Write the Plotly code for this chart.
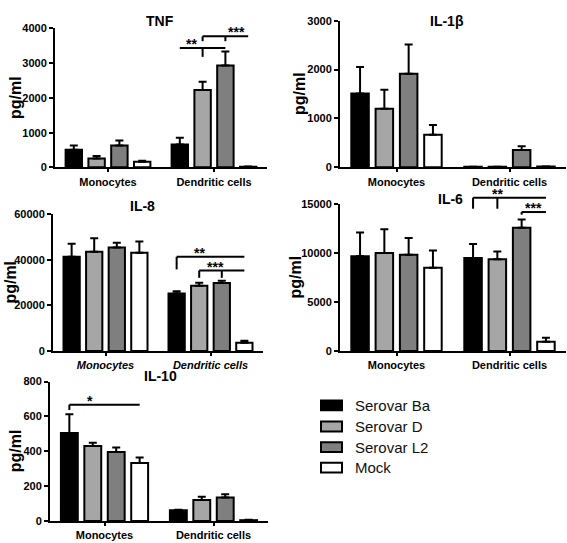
import plotly.graph_objects as go

W, H = 567, 543

categories = ["Monocytes", "Dendritic cells"]
series = ["Serovar Ba", "Serovar D", "Serovar L2", "Mock"]
colors = ["#000000", "#a6a6a6", "#7f7f7f", "#ffffff"]

# values [series][category], errors (upper SEM)
tnf = [[510, 660], [255, 2230], [630, 2935], [160, 20]]
tnf_err = [[120, 190], [75, 236], [140, 400], [28, 6]]

il1b = [[1513, 10], [1200, 10], [1913, 353], [667, 15]]
il1b_err = [[540, 3], [387, 3], [600, 80], [200, 4]]

il8 = [[41300, 25200], [43600, 28600], [45400, 29800], [43100, 3600]]
il8_err = [[5800, 1000], [5900, 1300], [2100, 1000], [5000, 900]]

il6 = [[9667, 9500], [10000, 9367], [9833, 12600], [8500, 933]]
il6_err = [[2433, 1433], [2433, 800], [1700, 833], [1767, 400]]

il10 = [[505, 62], [430, 121], [396, 135], [333, 5]]
il10_err = [[108, 3], [19, 19], [25, 18], [31, 2]]

panels = [
    dict(name="TNF", data=tnf, err=tnf_err, box=(55, 267, 23, 165), ymax=4000, dtick=1000, tx=160, ty=15, italic=False),
    dict(name="IL-1β", data=il1b, err=il1b_err, box=(340, 566, 15, 165), ymax=3000, dtick=1000, tx=447, ty=15, italic=False),
    dict(name="IL-8", data=il8, err=il8_err, box=(53, 263, 213, 352.7), ymax=60000, dtick=20000, tx=142, ty=205, italic=True),
    dict(name="IL-6", data=il6, err=il6_err, box=(340, 566, 202.7, 352.7), ymax=15000, dtick=5000, tx=450, ty=197, italic=False),
    dict(name="IL-10", data=il10, err=il10_err, box=(50, 268, 384, 526.7), ymax=800, dtick=200, tx=160, ty=378, italic=False),
]
ytitle_x = [16, 299, 11, 296, 15]

offsets = [-0.3225, -0.1075, 0.1075, 0.3225]
bar_w = 0.155
XR = [-0.5, 1.5]

FONT = "Liberation Sans, Arial, sans-serif"

fig = go.Figure()
layout = dict(width=W, height=H, margin=dict(l=0, r=0, t=0, b=0),
              plot_bgcolor="white", paper_bgcolor="white", barmode="overlay",
              showlegend=False, font=dict(family=FONT, color="black"))
annotations = []
shapes = []

def px(x):
    return x / W

def py(y):
    return 1 - y / H

for k, p in enumerate(panels):
    n = "" if k == 0 else str(k + 1)
    x0, x1, yt, yb = p["box"]
    xa = "x" + n
    ya = "y" + n
    for i, s in enumerate(series):
        fig.add_trace(go.Bar(
            x=[c + offsets[i] for c in range(len(categories))],
            y=p["data"][i], width=bar_w,
            marker=dict(color=colors[i], line=dict(color="black", width=2)),
            error_y=dict(type="data", symmetric=False, array=p["err"][i],
                         arrayminus=[0] * len(categories), color="black",
                         thickness=2, width=4),
            name=s, legendgroup=s, showlegend=False,
            xaxis=xa, yaxis=ya))
    cat_font = dict(family=FONT, size=11, color="black", weight="bold",
                    style="italic" if p["italic"] else "normal")
    layout["xaxis" + n] = dict(domain=[px(x0), px(x1)], range=XR, anchor=ya,
                               tickvals=[0, 1], ticktext=categories,
                               showline=True, linewidth=2, linecolor="black",
                               ticks="outside", ticklen=3, tickwidth=2, tickcolor="black",
                               showgrid=False, zeroline=False, tickfont=cat_font,
                               fixedrange=True)
    layout["yaxis" + n] = dict(domain=[py(yb), py(yt)], range=[0, p["ymax"]], anchor=xa,
                               dtick=p["dtick"], tick0=0, tickformat="d",
                               showline=True, linewidth=2, linecolor="black",
                               ticks="outside", ticklen=4, tickwidth=2, tickcolor="black",
                               showgrid=False, zeroline=False,
                               tickfont=dict(family=FONT, size=11, color="black", weight="bold"),
                               fixedrange=True)
    annotations.append(dict(text=p["name"], x=px(p["tx"]), y=py(p["ty"]), xref="paper", yref="paper",
                            xanchor="center", yanchor="middle",
                            showarrow=False, font=dict(family=FONT, size=14, weight="bold")))
    annotations.append(dict(text="pg/ml", x=px(ytitle_x[k]), y=py((yt + yb) / 2), xref="paper", yref="paper",
                            xanchor="center", yanchor="middle",
                            showarrow=False, textangle=-90,
                            font=dict(family=FONT, size=16, weight="bold")))

def to_paper(k, u, v):
    x0, x1, yt, yb = panels[k]["box"]
    xp = x0 + (u - XR[0]) / (XR[1] - XR[0]) * (x1 - x0)
    yp = yb - v / panels[k]["ymax"] * (yb - yt)
    return px(xp), py(yp)

def line(k, u0, v0, u1, v1):
    a = to_paper(k, u0, v0)
    b = to_paper(k, u1, v1)
    shapes.append(dict(type="line", xref="paper", yref="paper", x0=a[0], y0=a[1], x1=b[0], y1=b[1],
                       line=dict(color="black", width=2)))

def bracket(k, ul, ur, v, ticks, text, ut, yshift=-6, size=14):
    line(k, ul, v, ur, v)
    for (u, vb) in ticks:
        line(k, u, v, u, vb)
    xp, yp = to_paper(k, ut, v)
    annotations.append(dict(text=text, x=xp, y=yp, xref="paper", yref="paper", showarrow=False,
                            xanchor="center", yanchor="bottom", yshift=yshift,
                            font=dict(family=FONT, size=size, weight="bold")))

bc = lambda c, i: c + offsets[i]

# TNF
bracket(0, bc(1, 0), bc(1, 2), 3437, [(bc(1, 1), 3183)], "**", (bc(1, 0) + bc(1, 1)) / 2)
bracket(0, bc(1, 1), bc(1, 3), 3775, [(bc(1, 1), 3634), (bc(1, 2), 3634)], "***", (bc(1, 2) + bc(1, 3)) / 2)
# IL-8
bracket(2, bc(1, 0), bc(1, 3), 41300, [(bc(1, 0), 35800)], "**", bc(1, 1))
bracket(2, bc(1, 1), bc(1, 3), 35300, [(bc(1, 1), 32100), (bc(1, 2), 32100)], "***", 1.05)
# IL-6
bracket(3, bc(1, 0), bc(1, 3), 15670, [(bc(1, 0), 14540), (bc(1, 1), 14540)], "**", bc(1, 1))
bracket(3, bc(1, 2), bc(1, 3), 14200, [(bc(1, 2), 13930)], "***", (bc(1, 2) + bc(1, 3)) / 2)
# IL-10
bracket(4, bc(0, 0), bc(0, 3), 667, [(bc(0, 0), 637)], "*", -0.13)

# legend (drawn)
legend_y = [408.5, 430, 451, 472]
for i, s in enumerate(series):
    yc = legend_y[i]
    shapes.append(dict(type="rect", xref="paper", yref="paper",
                       x0=px(321), x1=px(342), y0=py(yc + 5), y1=py(yc - 5),
                       fillcolor=colors[i], line=dict(color="black", width=2)))
    annotations.append(dict(text=s, x=px(353), y=py(yc), xref="paper", yref="paper",
                            xanchor="left", yanchor="middle", showarrow=False,
                            font=dict(family=FONT, size=15, color="#111111")))

layout["annotations"] = annotations
layout["shapes"] = shapes
fig.update_layout(**layout)
fig.write_html("out.html", config={"displayModeBar": False},
               post_script="document.body.style.margin='0';document.body.style.overflow='hidden';")
